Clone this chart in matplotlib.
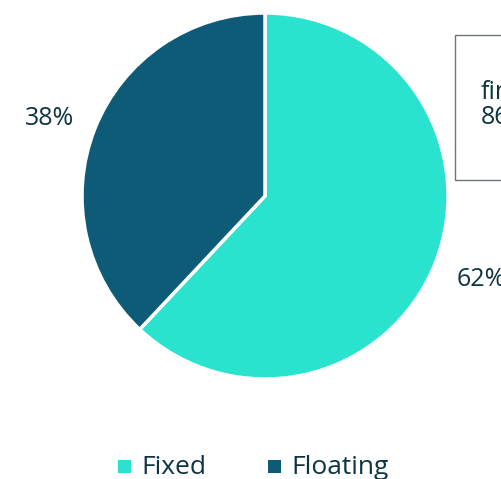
import matplotlib
matplotlib.use("Agg")
import matplotlib.pyplot as plt
from matplotlib.patches import Rectangle

labels = ["Fixed", "Floating"]
shares = [62, 38]
colors = ["#2ae3cf", "#0e5b77"]
TXT = "#0d3440"

W, H = 502, 479
fig = plt.figure(figsize=(W / 100, H / 100), dpi=100)
ax = fig.add_axes([0, 0, 1, 1])
plt.rcParams["font.family"] = ["Open Sans", "DejaVu Sans"]

# pie in pixel coordinates (y measured upward)
cx, cy, r = 265, H - 196, 183
ax.pie(shares, colors=colors, startangle=90, counterclock=False,
       center=(cx, cy), radius=r,
       wedgeprops=dict(edgecolor="white", linewidth=2.5))
ax.set_xlim(0, W)
ax.set_ylim(0, H)
ax.set_aspect("equal")
ax.axis("off")

# outside percentage labels
ax.text(50, H - 118, f"{shares[1]}%", ha="center", va="center", fontsize=18, color=TXT)
ax.text(481, H - 279, f"{shares[0]}%", ha="center", va="center", fontsize=18, color=TXT)

# hover box, cut by the right edge
ax.add_patch(Rectangle((455, H - 180), 80, 145, facecolor="white",
                       edgecolor="#6b777b", linewidth=1.0, zorder=5))
ax.text(481, H - 92, "financing", ha="left", va="center", fontsize=18, color=TXT, zorder=6)
ax.text(481, H - 117, "86%", ha="left", va="center", fontsize=18, color=TXT, zorder=6)

# legend
for x0, lab, col in [(118, labels[0], colors[0]), (268, labels[1], colors[1])]:
    ax.add_patch(Rectangle((x0, H - 473), 13, 13, facecolor=col, edgecolor="none"))
    ax.text(x0 + 23, H - 467, lab, ha="left", va="center", fontsize=19, color=TXT)

fig.savefig("out.png", dpi=100)
